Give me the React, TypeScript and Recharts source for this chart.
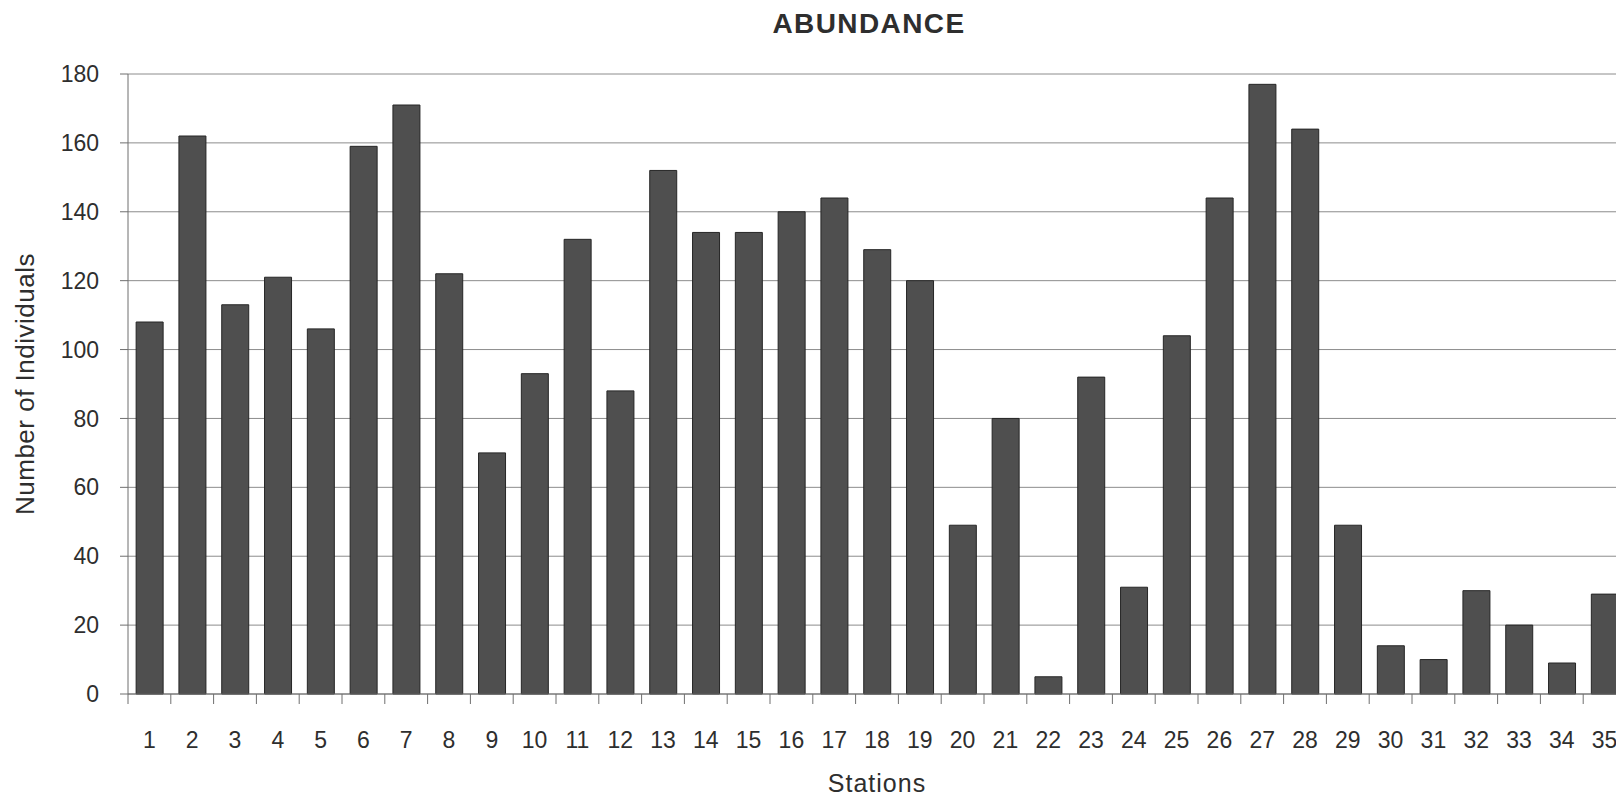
import React from 'react';
import { BarChart, Bar, XAxis, YAxis, CartesianGrid } from 'recharts';

const stations = ['1','2','3','4','5','6','7','8','9','10','11','12','13','14','15','16','17','18','19','20','21','22','23','24','25','26','27','28','29','30','31','32','33','34','35'];
const abundance = [108,162,113,121,106,159,171,122,70,93,132,88,152,134,134,140,144,129,120,49,80,5,92,31,104,144,177,164,49,14,10,30,20,9,29];
const yTicks = [0,20,40,60,80,100,120,140,160,180];

const title = 'ABUNDANCE';
const xTitle = 'Stations';
const yTitle = 'Number of Individuals';

const data = stations.map((s, i) => ({ station: s, value: abundance[i] }));

const FONT = '"Liberation Sans", Arial, Helvetica, sans-serif';
const TEXT = '#2e2e2e';
const AXIS = '#6f6f6f';

const XTick = (props: any) => {
  const { x, y, payload, width, visibleTicksCount } = props;
  const half = payload && typeof payload.offset === 'number' && payload.offset > 0
    ? payload.offset
    : (width / (visibleTicksCount || stations.length)) / 2;
  const bx = x - half;
  return (
    <g>
      <line x1={bx} y1={y} x2={bx} y2={y + 10} stroke={AXIS} strokeWidth={1} />
      <text x={x} y={y + 46} textAnchor="middle" dominantBaseline="central" fill={TEXT} fontSize={23} fontFamily={FONT}>
        {payload.value}
      </text>
    </g>
  );
};

const YLabel = (props: any) => {
  const vb = props.viewBox || { x: 0, y: 0, width: 0, height: 0 };
  const cx = vb.x + 17;
  const cy = vb.y + vb.height / 2;
  return (
    <text x={cx} y={cy} transform={`rotate(-90 ${cx} ${cy})`} textAnchor="middle" dominantBaseline="central" fill={TEXT} fontSize={26} fontFamily={FONT} letterSpacing={0.5}>
      {yTitle}
    </text>
  );
};

const XLabel = (props: any) => {
  const vb = props.viewBox || { x: 0, y: 0, width: 0, height: 0 };
  const cx = vb.x + vb.width / 2;
  const cy = vb.y + 89;
  return (
    <text x={cx} y={cy} textAnchor="middle" dominantBaseline="central" fill={TEXT} fontSize={25} fontFamily={FONT} letterSpacing={1}>
      {xTitle}
    </text>
  );
};

export default function App() {
  return (
    <div style={{ position: 'relative', width: 1616, height: 790, overflow: 'hidden', background: '#fff' }}>
      <svg width={1616} height={40} style={{ position: 'absolute', left: 0, top: 0, zIndex: 2 }}>
        <text x={861} y={15} textAnchor="middle" dominantBaseline="central" fill={TEXT} fontSize={28} fontWeight={700} fontFamily={FONT} letterSpacing={1.4}>
          {title}
        </text>
      </svg>
      <BarChart width={1640} height={790} data={data} margin={{ top: 66, right: 22, bottom: 4, left: 0 }} barCategoryGap="19%">
        <CartesianGrid vertical={false} stroke="#8c8c8c" strokeWidth={1} />
        <XAxis
          dataKey="station"
          interval={0}
          height={100}
          tickSize={0}
          tickMargin={0}
          tickLine={false}
          axisLine={{ stroke: AXIS, strokeWidth: 1 }}
          tick={<XTick />}
          label={<XLabel />}
        />
        <YAxis
          width={120}
          domain={[0, 180]}
          ticks={yTicks}
          interval={0}
          tickSize={8}
          tickMargin={21}
          axisLine={{ stroke: AXIS, strokeWidth: 1 }}
          tickLine={{ stroke: AXIS, strokeWidth: 1 }}
          tick={{ fill: TEXT, fontSize: 23, fontFamily: FONT }}
          label={<YLabel />}
        />
        <Bar dataKey="value" fill="#4f4f4f" stroke="#262626" strokeWidth={1} isAnimationActive={false} />
      </BarChart>
    </div>
  );
}
